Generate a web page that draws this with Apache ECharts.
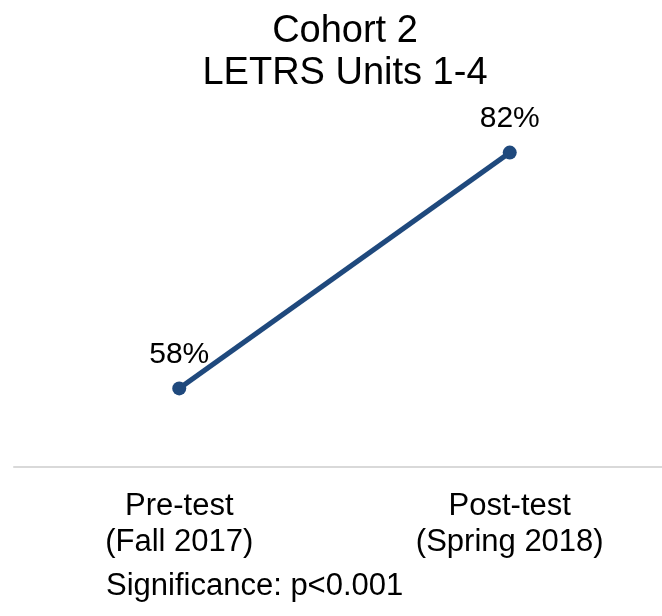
<!DOCTYPE html>
<html>
<head>
<meta charset="utf-8">
<script src="https://cdn.jsdelivr.net/npm/echarts@6/dist/echarts.min.js"></script>
<style>
  html, body { margin: 0; padding: 0; background: #fff; }
  #chart { width: 662px; height: 616px; }
</style>
</head>
<body>
<div id="chart"></div>
<script>
// data
var categories = ['Pre-test\n(Fall 2017)', 'Post-test\n(Spring 2018)'];
var scores = [58, 82];
var titleText = 'Cohort 2\nLETRS Units 1-4';
var noteText = 'Significance: p<0.001';

var chart = echarts.init(document.getElementById('chart'));
var font = 'Liberation Sans, Arial, sans-serif';

chart.setOption({
  animation: false,
  backgroundColor: '#fff',
  title: {
    text: titleText,
    left: 340,
    textAlign: 'center',
    top: 6,
    textStyle: { fontFamily: font, fontSize: 38, fontWeight: 'normal', color: '#000', lineHeight: 42 }
  },
  // plot runs past the right edge, like the original
  grid: { left: 14, width: 661, top: 74, bottom: 149, containLabel: false, outerBoundsMode: 'none' },
  xAxis: {
    type: 'category',
    data: categories,
    axisLine: { lineStyle: { color: '#d9d9d9', width: 2 } },
    axisTick: { show: false },
    axisLabel: { fontFamily: font, fontSize: 31, color: '#000', lineHeight: 36, margin: 21 }
  },
  yAxis: {
    type: 'value',
    min: 50,
    max: 90,
    show: false,
    splitLine: { show: false }
  },
  series: [{
    type: 'line',
    data: scores,
    symbol: 'circle',
    symbolSize: 14,
    itemStyle: { color: '#1F497D' },
    lineStyle: { color: '#1F497D', width: 5 },
    label: {
      show: true,
      position: 'top',
      distance: 12,
      formatter: '{c}%',
      fontFamily: font,
      fontSize: 30,
      color: '#000'
    }
  }],
  graphic: [{
    type: 'text',
    left: 106,
    top: 571,
    style: { text: noteText, font: '31px ' + font, fill: '#000' }
  }]
});
</script>
</body>
</html>
